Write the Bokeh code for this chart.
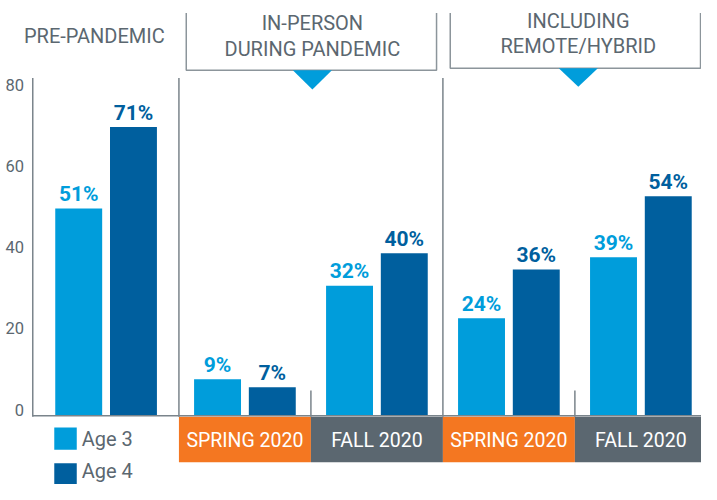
from bokeh.plotting import figure
from bokeh.models import Range1d
from bokeh.core.properties import value
from bokeh.embed import file_html
from bokeh.resources import INLINE

# ---------------- data ----------------
headers = [["PRE-PANDEMIC"], ["IN-PERSON", "DURING PANDEMIC"], ["INCLUDING", "REMOTE/HYBRID"]]
periods = ["", "SPRING 2020", "FALL 2020", "SPRING 2020", "FALL 2020"]
age3 = [51, 9, 32, 24, 39]
age4 = [71, 7, 40, 36, 54]
series = ["Age 3", "Age 4"]
y_ticks = [0, 20, 40, 60, 80]

# ---------------- style ----------------
C3 = "#009ddb"
C4 = "#005f9e"
ORANGE = "#f47721"
SLATE = "#5b6770"
TEXT = "#5b6770"
LINE = "#8c959b"
AXIS = "#7a848b"
FONT = value("Roboto")
period_colors = {"SPRING 2020": ORANGE, "FALL 2020": SLATE}

# ---------------- layout (reference-pixel space) ----------------
W, H = 701, 484
REF_W, REF_H = 717, 500
PX = 4.2          # reference pixels per percentage point
BASE = 429        # reference y of the zero line


def V(ypx):
    return (BASE - ypx) / PX


centers = [108] + [250 + 135 * i for i in range(4)]
DODGE = 28
BW = 48
HALF = 67.5
AXIS_X = 33

p = figure(width=W, height=H, output_backend="svg", toolbar_location=None,
           x_range=Range1d(0, REF_W), y_range=Range1d(V(REF_H), V(0)),
           x_axis_location=None, y_axis_location=None,
           min_border=0)
p.outline_line_color = None
p.grid.visible = False
p.background_fill_color = "white"
p.border_fill_color = "white"

# y tick labels (value scale)
p.text(x=AXIS_X - 9, y=y_ticks, text=[str(t) for t in y_ticks],
       text_font=FONT, text_font_size="16.5px", text_color=TEXT,
       text_align="right", text_baseline="middle", y_offset=-6)

# category boxes under the pandemic groups
bx = [centers[i] for i in range(1, 5)]
p.quad(left=[c - HALF for c in bx], right=[c + HALF for c in bx],
       top=V(430), bottom=V(477),
       fill_color=[period_colors[periods[i]] for i in range(1, 5)], line_color=None)
p.text(x=bx, y=V(454.5), text=[periods[i] for i in range(1, 5)],
       text_font=FONT, text_font_size="19.5px", text_color="white",
       text_align="center", text_baseline="middle")

# bars
x3 = [c - DODGE for c in centers]
x4 = [c + DODGE for c in centers]
p.vbar(x=x3, top=age3, bottom=0, width=BW, fill_color=C3, line_color=None)
p.vbar(x=x4, top=age4, bottom=0, width=BW, fill_color=C4, line_color=None)
LAB = 15 / PX
p.text(x=x3, y=[v + LAB for v in age3], text=[f"{v}%" for v in age3],
       text_font=FONT, text_font_size="21px", text_font_style="bold", text_color=C3,
       text_align="center", text_baseline="middle")
p.text(x=x4, y=[v + LAB for v in age4], text=[f"{v}%" for v in age4],
       text_font=FONT, text_font_size="21px", text_font_style="bold", text_color=C4,
       text_align="center", text_baseline="middle")

# separators and axis lines
bounds = [c - HALF for c in centers[1:]]
p.segment(x0=[AXIS_X, bounds[0], bounds[2]], x1=[AXIS_X, bounds[0], bounds[2]],
          y0=V(80), y1=V(430), line_color=AXIS, line_width=1.5)
p.segment(x0=[bounds[1], bounds[3]], x1=[bounds[1], bounds[3]],
          y0=V(403), y1=V(430), line_color=AXIS, line_width=1.5)
p.segment(x0=AXIS_X, x1=REF_W, y0=0, y1=0, line_color=AXIS, line_width=1.5)

# header boxes
p.multi_line(xs=[[190, 190, 446, 446], [460, 460, 716, 716]],
             ys=[[V(13), V(72), V(72), V(13)], [V(13), V(70), V(70), V(13)]],
             line_color=LINE, line_width=1.5)
hx = [96, 319, 591]
p.patches(xs=[[hx[1] - 20, hx[1] + 20, hx[1]], [hx[2] - 20, hx[2] + 20, hx[2]]],
          ys=[[V(72), V(72), V(92)], [V(70), V(70), V(89)]],
          fill_color=C3, line_color=None)
header_mids = [[36.5], [23.5, 50.5], [21, 47.5]]
for x, lines, mids in zip(hx, headers, header_mids):
    p.text(x=[x] * len(lines), y=[V(m) for m in mids], text=lines,
           text_font=FONT, text_font_size="20px", text_color=TEXT,
           text_align="center", text_baseline="middle")

# legend
p.quad(left=55, right=78, top=[V(441), V(478)], bottom=[V(464), V(501)],
       fill_color=[C3, C4], line_color=None)
p.text(x=83, y=[V(453.5), V(486)], text=series,
       text_font=FONT, text_font_size="20px", text_color=TEXT,
       text_align="left", text_baseline="middle")

open("out.html", "w").write(file_html(p, INLINE))
